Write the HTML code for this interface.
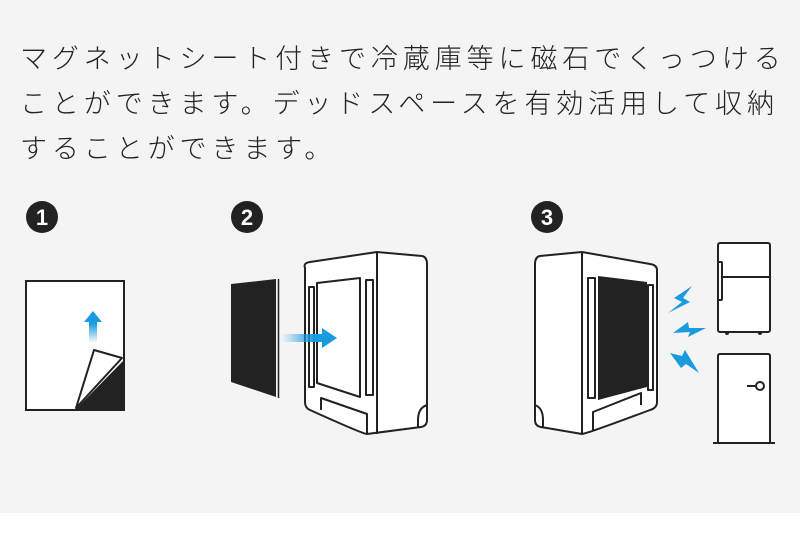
<html><body style="margin:0;width:800px;height:546px;background:#fff;overflow:hidden">
<div style="position:absolute;left:0;top:0;width:800px;height:513px;background:#f4f4f4"></div>
<div style="position:absolute;left:20px;top:37px;font-family:'Liberation Sans','Noto Sans CJK JP',sans-serif;font-size:27px;line-height:45px;letter-spacing:4.9px;color:#222;font-weight:300;white-space:nowrap">マグネットシート付きで冷蔵庫等に磁石でくっつける<br>ことができます。デッドスペースを有効活用して収納<br>することができます。</div>
<svg style="position:absolute;left:0;top:0" width="800" height="546" font-family="Liberation Sans,sans-serif">
<defs>
<linearGradient id="gu" x1="0" y1="1" x2="0" y2="0"><stop offset="0" stop-color="#1a9be0" stop-opacity="0"/><stop offset="0.6" stop-color="#1a9be0"/></linearGradient>
<linearGradient id="gr" x1="0" y1="0" x2="1" y2="0"><stop offset="0" stop-color="#1a9be0" stop-opacity="0"/><stop offset="0.6" stop-color="#1a9be0"/></linearGradient>
</defs>
<g fill="#222"><circle cx="42" cy="217" r="16"/><circle cx="247" cy="217" r="16"/><circle cx="547" cy="217" r="16"/></g>
<g fill="#fff" font-weight="bold" font-size="22" text-anchor="middle"><text x="42" y="225">1</text><text x="247" y="225">2</text><text x="547" y="225">3</text></g>
<rect x="26" y="281" width="98" height="129" fill="#fff" stroke="#222" stroke-width="2"/>
<polygon points="76,409 124,360 124,410" fill="#222"/>
<polygon points="76,408 94,350 122,358" fill="#fff" stroke="#222" stroke-width="2" stroke-linejoin="round"/>
<path d="M89 343 V322 H84 L93 311 L102 322 H97 V343Z" fill="url(#gu)"/>
<polygon points="231,284 276,279 276,397 231,382" fill="#222"/>
<line x1="278.5" y1="279" x2="278.5" y2="398" stroke="#222" stroke-width="1.5"/>
<g fill="#fff" stroke="#222" stroke-width="2" stroke-linejoin="round">
<path d="M305,268 Q303,263 310,262 L377,252 L422,256 Q427,257 427,264 L427,420 Q427,426 421,427 L367,434 Q363,434 310,410 Q305,408 305,402Z"/>
<path d="M377,252 L377,434" fill="none"/>
<polygon points="317,283 360,278 360,397 317,383" fill="#fff"/>
<rect x="309" y="287" width="5" height="100"/>
<rect x="366" y="280" width="7" height="115"/>
<path d="M321,410 L321,398 L367,414 L367,434" fill="none"/>
<path d="M427,405 Q418,408 418,420 L418,428" fill="none"/>
</g>
<path d="M282 334 H322 V328 L337 338 L322 348 V342 H282Z" fill="url(#gr)"/>
<g fill="#fff" stroke="#222" stroke-width="2" stroke-linejoin="round">
<path d="M657,270 Q657,265 650,264 L582,252 L540,256 Q535,257 535,264 L535,420 Q535,426 541,427 L582,434 Q586,434 650,410 Q657,408 657,402Z"/>
<path d="M582,252 L582,434" fill="none"/>
<rect x="588" y="278" width="7" height="120"/>
<rect x="648" y="285" width="5" height="105"/>
<path d="M641,405 L641,393 L593,412 L593,430" fill="none"/>
<path d="M535,405 Q543,408 543,420 L543,428" fill="none"/>
</g>
<polygon points="598,276 647,282 647,387 598,400" fill="#222"/>
<g fill="#1a9be0">
<polygon points="692,286 674,298 682,302 668,313 690,302 683,298"/>
<polygon points="673,333 688,322 689,328 706,328 688,337 690,332"/>
<polygon points="670,353 682,356 685,350 699,373 686,364 681,368"/>
</g>
<g fill="#fff" stroke="#222" stroke-width="2">
<rect x="718" y="243" width="52" height="89" rx="2"/>
<line x1="718" y1="277" x2="770" y2="277"/>
<rect x="718" y="262" width="4" height="38" rx="1"/>
<rect x="718" y="354" width="52" height="90" fill="#fff" stroke="none"/>
<path d="M718 442 V356 Q718 354 720 354 H768 Q770 354 770 356 V442"/>
<circle cx="760" cy="386" r="4"/>
<line x1="747" y1="386" x2="756" y2="386"/>
</g>
<g fill="#222"><circle cx="727" cy="333" r="2"/><circle cx="760" cy="333" r="2"/></g>
<line x1="713" y1="443" x2="775" y2="443" stroke="#222" stroke-width="2"/>
</svg>
</body></html>
